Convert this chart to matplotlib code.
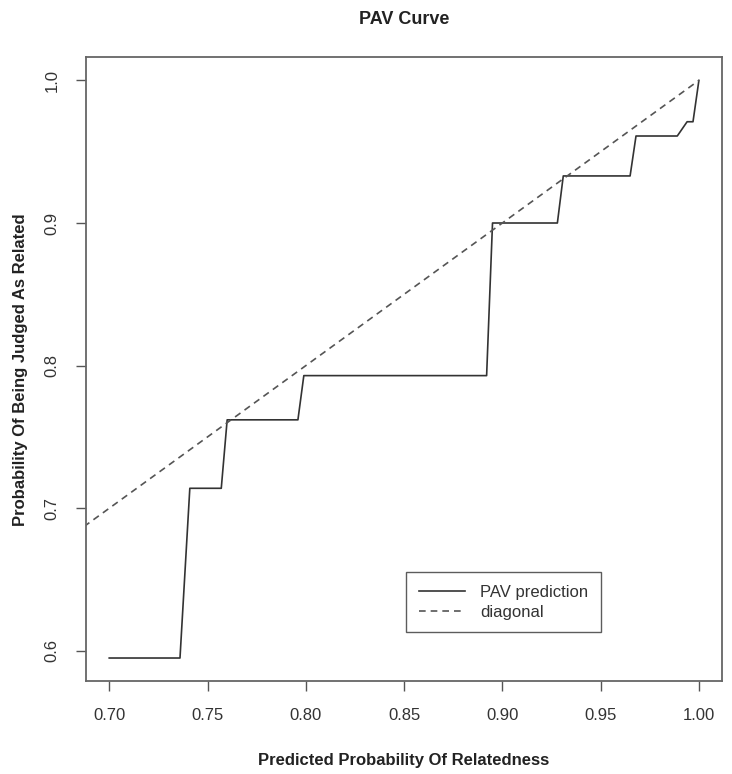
import matplotlib
matplotlib.use("Agg")
import matplotlib.pyplot as plt
import numpy as np

plt.rcParams['font.family'] = ['Liberation Sans', 'DejaVu Sans']

# PAV step curve
pav_x = [0.700, 0.736, 0.741, 0.757, 0.760, 0.796, 0.799, 0.892, 0.895,
         0.928, 0.931, 0.965, 0.968, 0.989, 0.994, 0.997, 1.000]
pav_y = [0.595, 0.595, 0.714, 0.714, 0.762, 0.762, 0.793, 0.793, 0.900,
         0.900, 0.933, 0.933, 0.961, 0.961, 0.971, 0.971, 1.000]
diag = [0.0, 1.0]

x_ticks = [0.70, 0.75, 0.80, 0.85, 0.90, 0.95, 1.00]
y_ticks = [0.6, 0.7, 0.8, 0.9, 1.0]

fig = plt.figure(figsize=(7.32, 7.74), dpi=100)
ax = fig.add_axes([0.117, 0.120, 0.870, 0.806])

ax.plot(pav_x, pav_y, color='#333333', lw=1.2, label='PAV prediction')
ax.plot(diag, diag, color='#555555', lw=1.2, ls=(0, (4, 3)), label='diagonal')

# R style 4% padding
xr = max(pav_x) - min(pav_x)
yr = max(pav_y) - min(pav_y)
ax.set_xlim(min(pav_x) - 0.04 * xr, max(pav_x) + 0.04 * xr)
ax.set_ylim(min(pav_y) - 0.04 * yr, max(pav_y) + 0.04 * yr)

ax.set_xticks(x_ticks)
ax.set_xticklabels(['%.2f' % v for v in x_ticks])
ax.set_yticks(y_ticks)
ax.set_yticklabels(['%.1f' % v for v in y_ticks], rotation=90, va='center')
ax.tick_params(direction='out', length=7, width=1, colors='#555555',
               labelcolor='#333333', labelsize=12, pad=12)
for s in ax.spines.values():
    s.set_color('#666666')
    s.set_linewidth(1.3)

ax.set_title('PAV Curve', fontsize=13, fontweight='bold', color='#222222', pad=24)
ax.set_xlabel('Predicted Probability Of Relatedness', fontsize=12,
              fontweight='bold', color='#222222', labelpad=22)
ax.set_ylabel('Probability Of Being Judged As Related', fontsize=12,
              fontweight='bold', color='#222222', labelpad=12)

leg = ax.legend(loc='upper left', bbox_to_anchor=(0.851, 0.655),
                bbox_transform=ax.transData, fontsize=12, frameon=True,
                fancybox=False, edgecolor='#333333', handlelength=2.8,
                handletextpad=0.9, borderpad=0.75, labelspacing=0.3,
                borderaxespad=0)
leg.get_frame().set_linewidth(1.0)
for t in leg.get_texts():
    t.set_color('#333333')

fig.savefig('out.png', dpi=100)
